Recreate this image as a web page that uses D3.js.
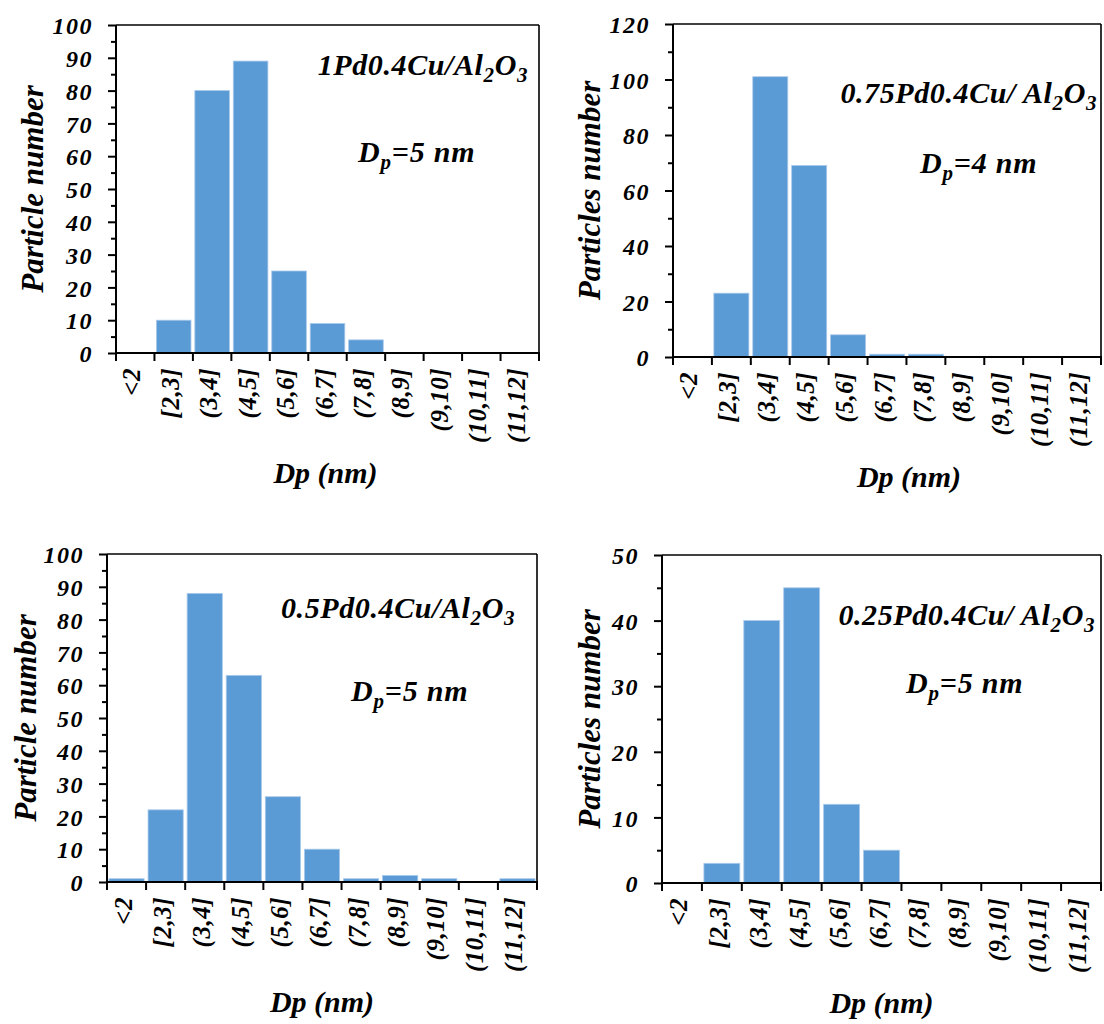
<!DOCTYPE html>
<html>
<head>
<meta charset="utf-8">
<script src="https://cdn.jsdelivr.net/npm/d3@7"></script>
<style>
  body { margin: 0; background: #fff; }
  svg text { font-family: "Liberation Serif", "Times New Roman", serif; font-weight: bold; font-style: italic; fill: #000; }
</style>
</head>
<body>
<svg id="chart" width="1104" height="1024"></svg>
<script>
// size classes (nm)
const categories = ['<2', '[2,3]', '(3,4]', '(4,5]', '(5,6]', '(6,7]', '(7,8]', '(8,9]', '(9,10]', '(10,11]', '(11,12]'];

// particle counts
const counts1Pd = [0, 10, 80, 89, 25, 9, 4, 0, 0, 0, 0];
const counts075Pd = [0, 23, 101, 69, 8, 1, 1, 0, 0, 0, 0];
const counts05Pd = [1, 22, 88, 63, 26, 10, 1, 2, 1, 0, 1];
const counts025Pd = [0, 3, 40, 45, 12, 5, 0, 0, 0, 0, 0];

const sampleNames = ['1Pd0.4Cu/', '0.75Pd0.4Cu/ ', '0.5Pd0.4Cu/', '0.25Pd0.4Cu/ '];
const meanSizes = [5, 4, 5, 5];
const yTitles = ['Particle number', 'Particles number', 'Particle number', 'Particles number'];
const yMaxes = [100, 120, 100, 50];
const yMajorSteps = [10, 20, 10, 10];

// where each panel sits on the page
const panels = [
    { counts: counts1Pd, x0: 116, x1: 539, y0: 25, y1: 353, yLabX: 43, titleX: 528, titleY: 75, dpX: 358, dpY: 162, xLabShift: -2 },
    { counts: counts075Pd, x0: 673, x1: 1101, y0: 24, y1: 357, yLabX: 600, titleX: 1097, titleY: 103, dpX: 920, dpY: 173, xLabShift: 22 },
    { counts: counts05Pd, x0: 107, x1: 537, y0: 554, y1: 882, yLabX: 36, titleX: 515, titleY: 618, dpX: 351, dpY: 701, xLabShift: 0 },
    { counts: counts025Pd, x0: 662, x1: 1101, y0: 555, y1: 883, yLabX: 600, titleX: 1095, titleY: 625, dpX: 906, dpY: 693, xLabShift: 0 }
];

const barColor = '#5b9bd5';
const svg = d3.select('#chart');

panels.forEach((p, i) => {
    let g = svg.append('g');
    let x = d3.scaleBand().domain(categories).range([p.x0, p.x1]).paddingInner(0.1).paddingOuter(0.05);
    let y = d3.scaleLinear().domain([0, yMaxes[i]]).range([p.y1, p.y0]);
    let data = categories.map((c, k) => ({ cat: c, value: p.counts[k] }));

    // bars
    g.append('g').selectAll('rect').data(data).enter().append('rect')
        .attr('x', (d) => x(d.cat))
        .attr('width', x.bandwidth())
        .attr('y', (d) => y(d.value))
        .attr('height', (d) => y(0) - y(d.value))
        .style('fill', barColor)
        .style('stroke', '#a9c9ec')
        .style('stroke-width', 0.8);

    // frame on top and right
    g.append('line').attr('x1', p.x0).attr('x2', p.x1).attr('y1', p.y0).attr('y2', p.y0)
        .style('stroke', '#000').style('stroke-width', 1.6);
    g.append('line').attr('x1', p.x1).attr('x2', p.x1).attr('y1', p.y0).attr('y2', p.y1)
        .style('stroke', '#000').style('stroke-width', 1.6);

    // y axis, minor ticks half way between the labelled ones
    let step = yMajorSteps[i];
    let minor = g.append('g').attr('transform', 'translate(' + p.x0 + ',0)')
        .call(d3.axisLeft(y).tickValues(d3.range(step / 2, yMaxes[i], step)).tickSize(5).tickFormat(''));
    let yAxis = g.append('g').attr('transform', 'translate(' + p.x0 + ',0)')
        .call(d3.axisLeft(y).tickValues(d3.range(0, yMaxes[i] + 0.1, step)).tickSize(8).tickPadding(15));
    [minor, yAxis].forEach((a) => {
        a.select('.domain').remove();
        a.selectAll('line').style('stroke', '#000').style('stroke-width', 2);
    });
    yAxis.selectAll('text').style('font-size', '24px').style('letter-spacing', '1.5px').attr('dy', '0.36em');
    g.append('line').attr('x1', p.x0).attr('x2', p.x0).attr('y1', p.y0).attr('y2', p.y1 + 1)
        .style('stroke', '#000').style('stroke-width', 2);

    // x axis: ticks on the class boundaries, labels turned up
    let edges = d3.range(categories.length + 1).map((k) => p.x0 + k * x.step());
    g.append('line').attr('x1', p.x0 - 1).attr('x2', p.x1 + 1).attr('y1', p.y1).attr('y2', p.y1)
        .style('stroke', '#000').style('stroke-width', 2);
    g.append('g').selectAll('line').data(edges).enter().append('line')
        .attr('x1', (d) => d).attr('x2', (d) => d)
        .attr('y1', p.y1).attr('y2', p.y1 + 8)
        .style('stroke', '#000').style('stroke-width', 2);
    g.append('g').selectAll('text').data(categories).enter().append('text')
        .attr('transform', (d) => 'translate(' + (x(d) + x.bandwidth() / 2 + 5) + ',' + (p.y1 + 15) + ') rotate(-90)')
        .style('text-anchor', 'end')
        .style('font-size', '25px')
        .style('letter-spacing', '0.5px')
        .text((d) => d);

    // axis titles
    g.append('text')
        .attr('transform', 'translate(' + p.yLabX + ',' + ((p.y0 + p.y1) / 2) + ') rotate(-90)')
        .style('text-anchor', 'middle')
        .style('font-size', '31px')
        .text(yTitles[i]);
    g.append('text')
        .attr('x', (p.x0 + p.x1) / 2 + p.xLabShift)
        .attr('y', p.y1 + 130)
        .style('text-anchor', 'middle')
        .style('font-size', '30px')
        .text('Dp (nm)');

    // sample name with subscripts
    let title = g.append('text').attr('x', p.titleX).attr('y', p.titleY)
        .style('text-anchor', 'end').style('font-size', '30px').style('letter-spacing', '0.6px');
    title.append('tspan').text(sampleNames[i] + 'Al');
    title.append('tspan').attr('dy', 7).style('font-size', '21px').text('2');
    title.append('tspan').attr('dy', -7).text('O');
    title.append('tspan').attr('dy', 7).style('font-size', '21px').text('3');

    let dp = g.append('text').attr('x', p.dpX).attr('y', p.dpY)
        .style('font-size', '30px').style('letter-spacing', '0.8px');
    dp.append('tspan').text('D');
    dp.append('tspan').attr('dy', 7).style('font-size', '21px').text('p');
    dp.append('tspan').attr('dy', -7).text('=' + meanSizes[i] + ' nm');
});
</script>
</body>
</html>
